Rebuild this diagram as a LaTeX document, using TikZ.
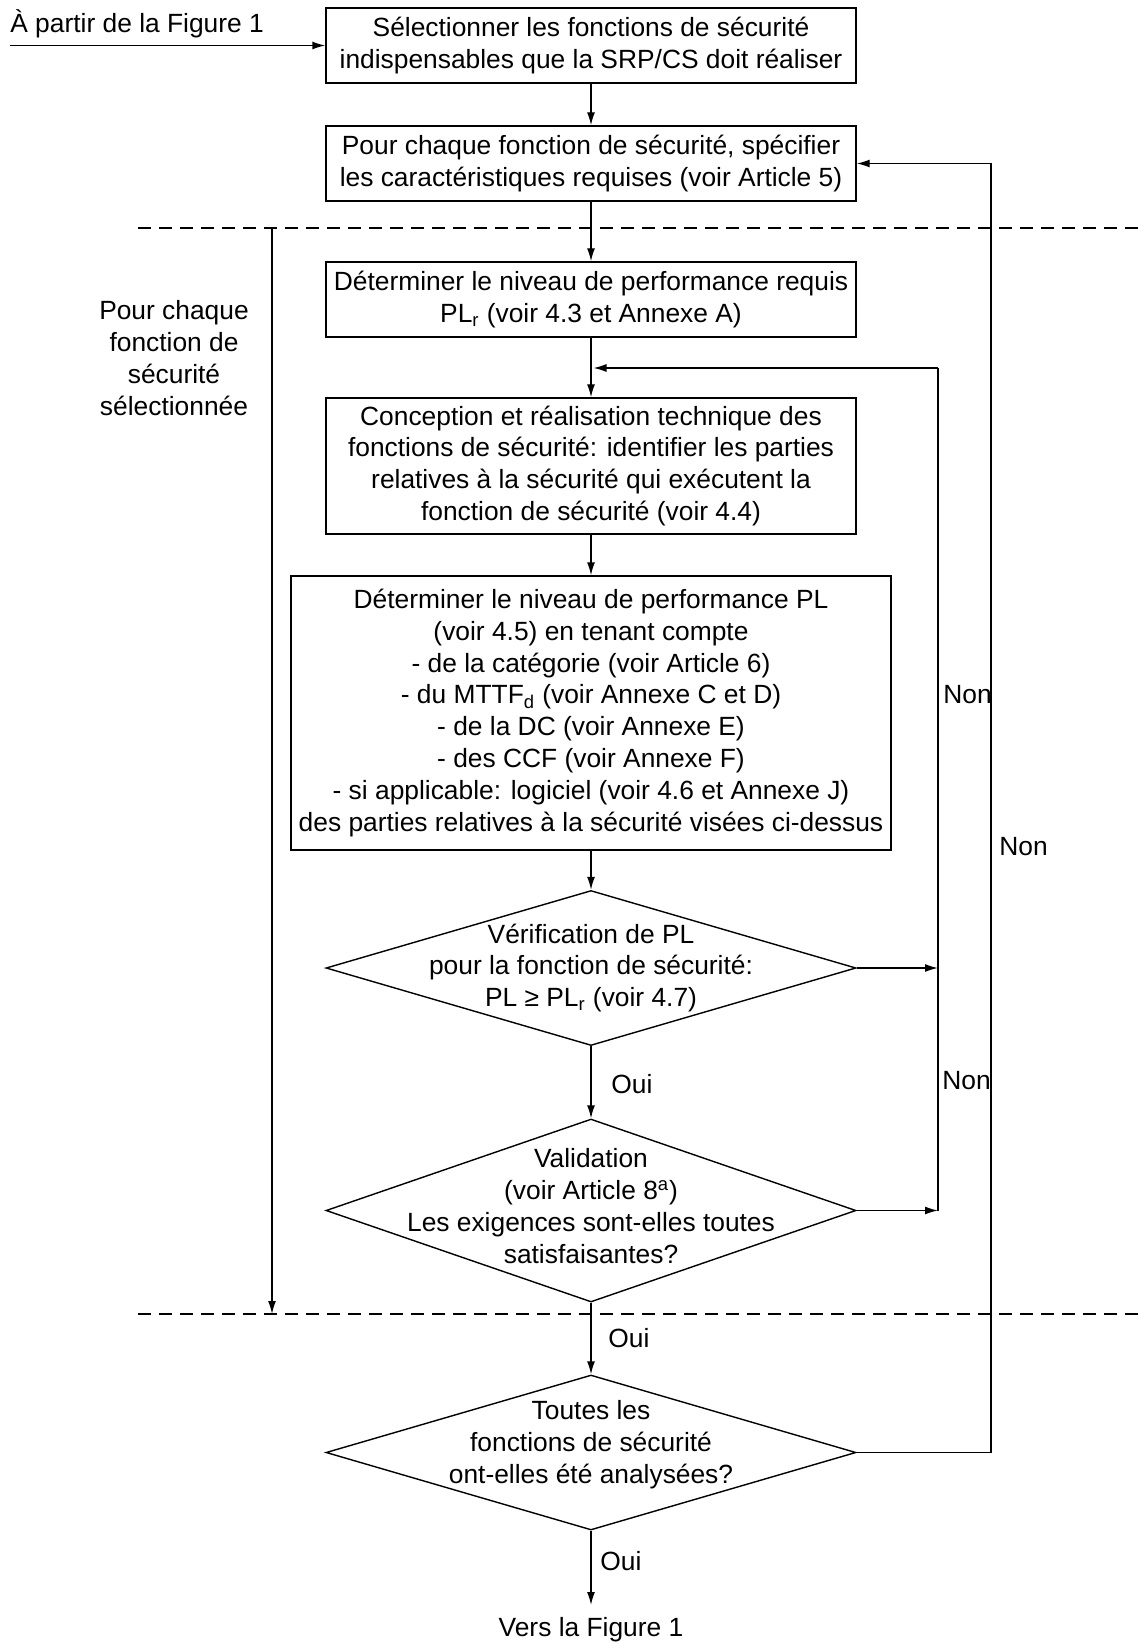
\documentclass[tikz,border=0pt]{standalone}
\usepackage{fontspec}
\setmainfont{Liberation Sans}
\usetikzlibrary{arrows.meta,positioning,shapes.geometric}
\newcommand{\flowfont}{\fontsize{15}{18.2}\selectfont}
\tikzset{
  box/.style={draw,line width=0.8pt,align=center,font=\flowfont,inner sep=2pt,
    minimum width=10.6cm,minimum height=1.5cm},
  dec/.style={draw,line width=0.8pt,diamond,inner sep=0pt,
    minimum width=10.6cm,minimum height=3.1cm},
  dtext/.style={align=center,font=\flowfont,inner sep=1pt},
  note/.style={font=\flowfont,inner sep=0pt},
  arr/.style={-{Latex[length=2.6mm,width=1.6mm]},line width=0.8pt},
  ln/.style={line width=0.8pt},
  sep/.style={line width=0.8pt,dash pattern=on 2.6mm off 1.6mm},
}

\begin{document}
\begin{tikzpicture}
  \useasboundingbox (0,0) rectangle (22.78,-32.86);
  % main column
  \node[box] (sel) at (11.82,-0.91) {Sélectionner les fonctions de sécurité\\indispensables que la SRP/CS doit réaliser};
  \node[box] (spec) at (11.82,-3.27) {Pour chaque fonction de sécurité, spécifier\\les caractéristiques requises (voir Article 5)};
  \node[box] (plr) at (11.82,-5.99) {Déterminer le niveau de performance requis\\PL\textsubscript{r} (voir 4.3 et Annexe A)};
  \node[box,minimum height=2.72cm] (design) at (11.82,-9.32) {Conception et réalisation technique des\\fonctions de sécurité: identifier les parties\\relatives à la sécurité qui exécutent la\\fonction de sécurité (voir 4.4)};
  \node[box,minimum width=12cm,minimum height=5.48cm] (plcalc) at (11.82,-14.26) {Déterminer le niveau de performance PL\\(voir 4.5) en tenant compte\\- de la catégorie (voir Article 6)\\- du MTTF\textsubscript{d} (voir Annexe C et D)\\- de la DC (voir Annexe E)\\- des CCF (voir Annexe F)\\- si applicable: logiciel (voir 4.6 et Annexe J)\\des parties relatives à la sécurité visées ci-dessus};
  \node[dec] (verif) at (11.82,-19.36) {};
  \node[dtext] (veriftxt) at (verif) {Vérification de PL\\pour la fonction de sécurité:\\PL ≥ PL\textsubscript{r} (voir 4.7)};
  \node[dec,minimum height=3.66cm] (valid) at (11.82,-24.21) {};
  \node[dtext] (validtxt) at ([yshift=0.08cm]valid) {Validation\\(voir Article 8\textsuperscript{a})\\Les exigences sont-elles toutes\\satisfaisantes?};
  \node[dec] (allfn) at (11.82,-29.05) {};
  \node[dtext] (allfntxt) at ([yshift=0.16cm]allfn) {Toutes les\\fonctions de sécurité\\ont-elles été analysées?};
  % side texts
  \node[note,anchor=west] (from) at (0.2,-0.48) {À partir de la Figure 1};
  \node[note,align=center] (each) at (3.48,-7.16) {Pour chaque\\fonction de\\sécurité\\sélectionnée};
  \node[note] (to) at (11.82,-32.6) {Vers la Figure 1};
  \node[note,anchor=west] (oui1) at (12.22,-21.68) {Oui};
  \node[note,anchor=west] (oui2) at (12.16,-26.76) {Oui};
  \node[note,anchor=west] (oui3) at (12.0,-31.22) {Oui};
  \node[note,anchor=west] (non1) at (18.86,-13.9) {Non};
  \node[note,anchor=west] (non2) at (18.84,-21.62) {Non};
  \node[note,anchor=west] (non3) at (19.98,-16.94) {Non};
  % helper points
  \coordinate (in) at (0.2,-0.91);
  \coordinate (merge) at (11.82,-7.36);
  \coordinate (rtop) at (18.76,-7.36);
  \coordinate (r1) at (18.76,-19.36);
  \coordinate (r2) at (18.76,-24.21);
  \coordinate (far) at (19.82,-29.05);
  \coordinate (ltop) at (5.44,-4.56);
  \coordinate (lbot) at (5.44,-26.28);
  \coordinate (out) at (11.82,-32.1);
  % separators
  \draw[sep] (2.76,-4.56) -- (22.78,-4.56);
  \draw[sep] (2.76,-26.28) -- (22.78,-26.28);
  % flow
  \draw[arr] (in) -- (sel.west);
  \draw[arr] (sel) -- (spec);
  \draw[arr] (spec) -- (plr);
  \draw[arr] (plr) -- (design);
  \draw[arr] (design) -- (plcalc);
  \draw[arr] (plcalc) -- (verif.north);
  \draw[arr] (verif.south) -- (valid.north);
  \draw[arr] (valid.south) -- (allfn.north);
  \draw[arr] (allfn.south) -- (out);
  \draw[arr] (ltop) -- (lbot);
  % loops
  \draw[arr] (verif.east) -- (r1);
  \draw[arr] (valid.east) -- (r2);
  \draw[ln] (r2) -- (rtop);
  \draw[arr] (rtop) -- ([xshift=0.05cm]merge);
  \draw[arr] (allfn.east) -| (far) |- (spec.east);
\end{tikzpicture}
\end{document}
